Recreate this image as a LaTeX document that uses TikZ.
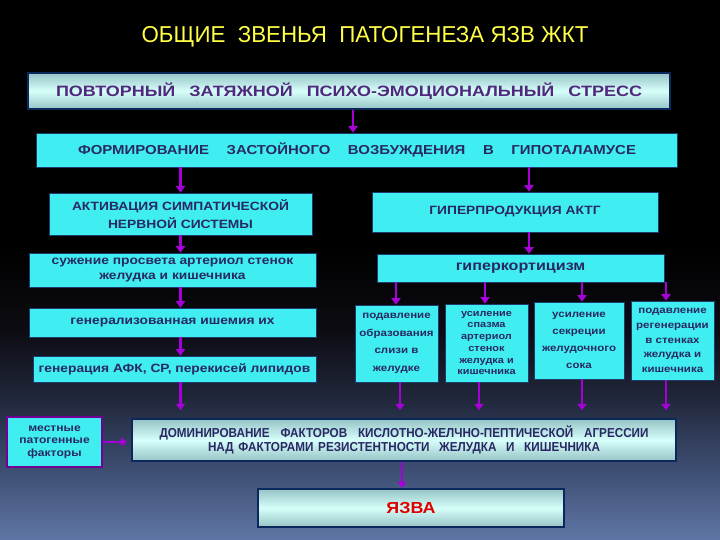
\documentclass[tikz,border=0pt]{standalone}
\usepackage{fontspec}
\setmainfont{Liberation Sans}
\newfontfamily\wideface{Liberation Sans}[FakeStretch=1.15]
\newfontfamily\narrowface{Liberation Sans}[FakeStretch=0.9]
\usepackage{tikz}
\usetikzlibrary{arrows.meta,positioning,calc}

\definecolor{bgbot}{RGB}{95,118,165}
\definecolor{bgtwo}{RGB}{62,78,115}
\definecolor{bgthree}{RGB}{33,40,60}
\definecolor{bgfour}{RGB}{12,12,18}
\definecolor{boxcyan}{RGB}{64,238,242}
\definecolor{boxline}{RGB}{30,60,110}
\definecolor{boxtext}{RGB}{40,40,100}
\definecolor{stresstext}{RGB}{80,40,125}
\definecolor{arrowviolet}{RGB}{165,0,215}
\definecolor{bandedge}{RGB}{150,195,198}
\definecolor{bandmid}{RGB}{215,255,250}
\definecolor{bandline}{RGB}{10,40,90}
\definecolor{titleyellow}{RGB}{255,255,70}
\definecolor{ulcerred}{RGB}{225,0,0}

\pgfdeclareverticalshading{slideback}{100bp}{color(0bp)=(bgbot); color(25bp)=(bgbot);
  color(31.5bp)=(bgtwo); color(38bp)=(bgthree); color(44.5bp)=(bgfour);
  color(52bp)=(black); color(100bp)=(black)}

\begin{document}
\begin{tikzpicture}[x=1pt, y=-1pt,
    link/.style={draw=boxline, line width=0.6pt, fill=boxcyan, text=boxtext, align=center,
      inner sep=0pt},
    band/.style={draw=bandline, line width=2pt, top color=bandedge, bottom color=bandedge,
      middle color=bandmid, align=center, inner sep=0pt},
    edge/.style={-{Triangle[length=6.5pt,width=9pt]}, line width=2.6pt, draw=arrowviolet}
]
    \useasboundingbox (0,0) rectangle (720,540);
    \shade[shading=slideback] (0,0) rectangle (720,540);

    \node[text=titleyellow, font=\fontsize{23}{26}\selectfont\addfontfeature{FakeStretch=0.97}] (title) at (365,37)
        {ОБЩИЕ\ \ ЗВЕНЬЯ\ \ ПАТОГЕНЕЗА ЯЗВ ЖКТ};

    \node[band, text=stresstext, minimum width=642, minimum height=36,
          font=\bfseries\fontsize{15}{17}\selectfont\addfontfeature{FakeStretch=1.2}] (stress) at (349,91)
        {\makebox[586pt][s]{ПОВТОРНЫЙ\ \ ЗАТЯЖНОЙ\ \ ПСИХО-ЭМОЦИОНАЛЬНЫЙ\ \ СТРЕСС}};
    \node[link, minimum width=641, minimum height=34, font=\wideface\bfseries\fontsize{13}{15}\selectfont] (form) at (357,150)
        {\makebox[558pt][s]{ФОРМИРОВАНИЕ\ \ ЗАСТОЙНОГО\ \ ВОЗБУЖДЕНИЯ\ \ В\ \ ГИПОТАЛАМУСЕ}};

    % left branch
    \node[link, minimum width=263, minimum height=42, font=\wideface\bfseries\fontsize{12}{18}\selectfont] (act) at (180.5,214)
        {АКТИВАЦИЯ СИМПАТИЧЕСКОЙ\\НЕРВНОЙ СИСТЕМЫ};
    \node[link, minimum width=287, minimum height=34, font=\wideface\bfseries\fontsize{12}{15.5}\selectfont] (narrow) at (172.5,270)
        {сужение просвета артериол стенок\\желудка и кишечника};
    \node[link, minimum width=287, minimum height=29, font=\wideface\bfseries\fontsize{12}{14}\selectfont] (isch) at (172.5,322.5)
        {генерализованная ишемия их};
    \node[link, minimum width=283, minimum height=26, font=\wideface\bfseries\fontsize{12}{14}\selectfont] (afk) at (174.5,369)
        {генерация АФК, СР, перекисей липидов};

    % right branch
    \node[link, minimum width=286, minimum height=40, font=\wideface\bfseries\fontsize{12}{14}\selectfont] (acth) at (515,212)
        {ГИПЕРПРОДУКЦИЯ АКТГ};
    \node[link, minimum width=287, minimum height=28, font=\wideface\bfseries\fontsize{14}{16}\selectfont] (hyperc) at (520.5,268)
        {гиперкортицизм};
    \node[link, minimum width=83, minimum height=77, font=\wideface\bfseries\fontsize{10}{17.6}\selectfont] (g1) at (396.5,343.5)
        {подавление\\образования\\слизи в\\желудке};
    \node[link, minimum width=83, minimum height=78, font=\wideface\bfseries\fontsize{9.5}{11.7}\selectfont] (g2) at (486.5,343)
        {усиление\\спазма\\артериол\\стенок\\желудка и\\кишечника};
    \node[link, minimum width=90, minimum height=77, font=\wideface\bfseries\fontsize{10}{17.2}\selectfont] (g3) at (579,340.5)
        {усиление\\секреции\\желудочного\\сока};
    \node[link, minimum width=83, minimum height=79, font=\wideface\bfseries\fontsize{10}{14.7}\selectfont] (g4) at (672.5,340.5)
        {подавление\\регенерации\\в стенках\\желудка и\\кишечника};

    % bottom
    \node[band, text=boxtext, minimum width=544, minimum height=42, line width=1.5pt,
          font=\narrowface\bfseries\fontsize{13}{14}\selectfont] (dom) at (404,440)
        {\makebox[489pt][s]{ДОМИНИРОВАНИЕ\ ФАКТОРОВ\ КИСЛОТНО-ЖЕЛЧНО-ПЕПТИЧЕСКОЙ\ АГРЕССИИ}\\
         \makebox[392pt][s]{НАД\ ФАКТОРАМИ\ РЕЗИСТЕНТНОСТИ\ \ ЖЕЛУДКА\ \ И\ \ КИШЕЧНИКА}\hspace{14pt}};
    \node[link, draw=arrowviolet!70!black, line width=1.2pt, minimum width=95, minimum height=50,
          font=\wideface\bfseries\fontsize{10.5}{12.5}\selectfont] (local) at (54.5,442)
        {местные\\патогенные\\факторы};
    \node[band, text=ulcerred, minimum width=306, minimum height=38,
          font=\bfseries\fontsize{16}{18}\selectfont\addfontfeature{FakeStretch=1.12}] (ulcer) at (411,508)
        {ЯЗВА};

    \draw[edge] (stress.south -| 353,0) -- (form.north -| 353,0);
    \draw[edge] (form.south -| act.north) -- (act.north);
    \draw[edge] (form.south -| 529,0) -- (acth.north -| 529,0);
    \draw[edge] (act.south) -- (act.south |- narrow.north);
    \draw[edge] (narrow.south -| act.south) -- (isch.north -| act.south);
    \draw[edge] (isch.south -| act.south) -- (afk.north -| act.south);
    \draw[edge, shorten >=8pt] (afk.south -| act.south) -- (dom.north -| act.south);
    \draw[edge] (acth.south -| 529,0) -- (hyperc.north -| 529,0);
    \foreach \g/\xt/\xb in {g1/396/400, g2/485/479, g3/582/582, g4/666/666} {
        \draw[edge] (hyperc.south -| \xt,0) -- (\g.north -| \xt,0);
        \draw[edge, shorten >=8pt] (\g.south -| \xb,0) -- (dom.north -| \xb,0);
    }
    \draw[edge, shorten >=4pt] (local.east) -- (local.east -| dom.west);
    \draw[edge] (dom.south -| 402,0) -- (ulcer.north -| 402,0);
\end{tikzpicture}
\end{document}
